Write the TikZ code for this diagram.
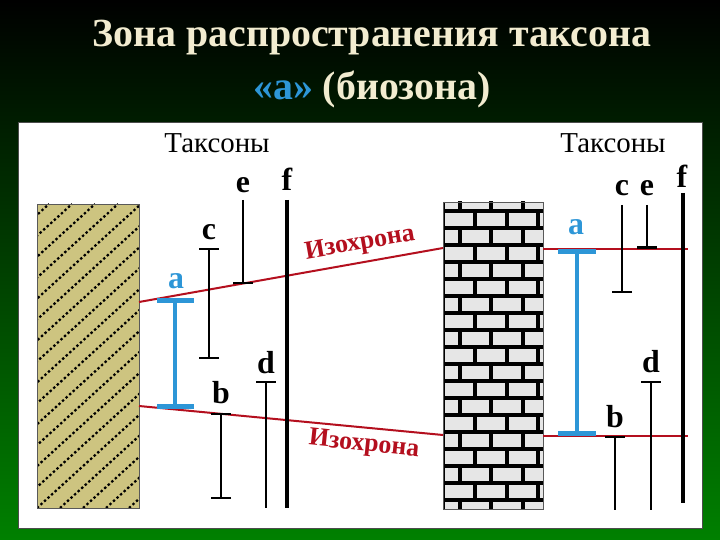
\documentclass[tikz,border=0pt]{standalone}
\usepackage{fontspec}
\setmainfont{Liberation Serif}
\usetikzlibrary{arrows.meta, positioning}
\definecolor{titlecream}{RGB}{242,236,208}
\definecolor{zoneblue}{RGB}{45,150,215}
\definecolor{isored}{RGB}{180,15,30}
\definecolor{sandfill}{RGB}{205,196,128}
\definecolor{brickfill}{RGB}{230,230,230}
\definecolor{bggreen}{RGB}{0,128,0}

\begin{document}
\begin{tikzpicture}[x=1bp, y=-1bp,
    titletext/.style={text=titlecream, font=\fontsize{40}{48}\selectfont\bfseries, inner sep=0},
    taxhead/.style={font=\fontsize{29}{34}\selectfont, anchor=base, inner sep=0},
    taxlabel/.style={font=\fontsize{32}{36}\selectfont\bfseries, anchor=base, inner sep=0},
    isolabel/.style={text=isored, font=\fontsize{26}{30}\selectfont\bfseries, inner sep=0},
    isochrone/.style={isored, line width=2bp},
    taxon/.style={black, line width=2bp},
    thicktaxon/.style={black, line width=3.2bp},
    zonebar/.style={zoneblue, line width=4bp},
    hatchline/.style={black, line width=2.2bp, dash pattern=on 2.4bp off 2.4bp},
    mortar/.style={black, line width=4bp}]
    \useasboundingbox (0,0) rectangle (720,540);
    % background and panel
    \shade[top color=black, bottom color=bggreen] (0,0) rectangle (720,540);
    \fill[white, draw=gray!60!black] (18,122) rectangle (702,528);

    % title
    \node[titletext] (title1) at (372,38) {Зона распространения таксона};
    \node[titletext] (title2) at (372,89) {\textcolor{zoneblue}{«a»} (биозона)};

    % sandstone column
    \fill[sandfill] (37,204) rectangle (139,508);
    \begin{scope}
        \clip (37,204) rectangle (139,508);
        \foreach \k in {-15,...,5}
            \draw[hatchline] (37+23*\k,508) -- ++(334,-304);
    \end{scope}
    \draw[gray!70!black] (37,204) rectangle (139,508);

    % brick column
    \fill[brickfill] (443,202) rectangle (543,509);
    \begin{scope}
        \clip (443,202) rectangle (543,509);
        \foreach \k in {0,...,17}
            \draw[mortar] (443,500-17*\k) -- (543,500-17*\k);
        \foreach \k in {-1,1,...,17}
            \foreach \jx in {459.5,491,522.5}
                \draw[mortar] (\jx,500-17*\k) -- (\jx,483-17*\k);
        \foreach \k in {0,2,...,16}
            \foreach \jx in {475,506.5,538}
                \draw[mortar] (\jx,500-17*\k) -- (\jx,483-17*\k);
        \draw[black, line width=3bp] (443,202) -- (443,509);
    \end{scope}
    \draw[gray!70!black] (443,202) rectangle (543,509);

    % isochrones
    \coordinate (upL) at (139,302);
    \coordinate (upM) at (443,248);
    \coordinate (upN) at (543,249);
    \coordinate (upR) at (688,249);
    \coordinate (loL) at (139,406);
    \coordinate (loM) at (443,435);
    \coordinate (loN) at (543,436);
    \coordinate (loR) at (688,436);
    \draw[isochrone] (upL) -- (upM);
    \draw[isochrone] (upN) -- (upR);
    \draw[isochrone] (loL) -- (loM);
    \draw[isochrone] (loN) -- (loR);
    \node[isolabel, rotate=10] (iso1) at (360,244) {Изохрона};
    \node[isolabel, rotate=-6] (iso2) at (364,445) {Изохрона};

    % left section taxa
    \node[taxhead] (headL) at (217,153) {Таксоны};
    \coordinate (aLt) at (175,298);  \coordinate (aLb) at (175,409);
    \coordinate (cLt) at (209,248);  \coordinate (cLb) at (209,359);
    \coordinate (eLt) at (243,200);  \coordinate (eLb) at (243,284);
    \coordinate (fLt) at (287,200);  \coordinate (fLb) at (287,508);
    \coordinate (bLt) at (221,413);  \coordinate (bLb) at (221,499);
    \coordinate (dLt) at (266,381);  \coordinate (dLb) at (266,508);
    \draw[zonebar, {Bar[width=37bp, line width=5bp]}-{Bar[width=37bp, line width=5bp]}] (aLt) -- (aLb);
    \draw[taxon, {Bar[width=20bp]}-{Bar[width=20bp]}] (cLt) -- (cLb);
    \draw[taxon, -{Bar[width=20bp]}] (eLt) -- (eLb);
    \draw[thicktaxon] (fLt) -- (fLb);
    \draw[taxon, {Bar[width=20bp]}-{Bar[width=20bp]}] (bLt) -- (bLb);
    \draw[taxon, {Bar[width=20bp]}-] (dLt) -- (dLb);
    \node[taxlabel, text=zoneblue] (aL) at (176,288) {a};
    \node[taxlabel] (cL) at (209,240) {c};
    \node[taxlabel] (eL) at (243,193) {e};
    \node[taxlabel] (fL) at (287,191) {f};
    \node[taxlabel] (bL) at (221,403) {b};
    \node[taxlabel] (dL) at (266,373) {d};

    % right section taxa
    \node[taxhead] (headR) at (613,153) {Таксоны};
    \coordinate (aRt) at (577,249);  \coordinate (aRb) at (577,436);
    \coordinate (cRt) at (622,205);  \coordinate (cRb) at (622,293);
    \coordinate (eRt) at (647,205);  \coordinate (eRb) at (647,249);
    \coordinate (fRt) at (683,193);  \coordinate (fRb) at (683,503);
    \coordinate (bRt) at (615,436);  \coordinate (bRb) at (615,510);
    \coordinate (dRt) at (651,381);  \coordinate (dRb) at (651,510);
    \draw[zonebar, {Bar[width=38bp, line width=5bp]}-{Bar[width=38bp, line width=5bp]}] (aRt) -- (aRb);
    \draw[taxon, -{Bar[width=20bp]}] (cRt) -- (cRb);
    \draw[taxon, -{Bar[width=20bp, line width=3bp]}] (eRt) -- (eRb);
    \draw[thicktaxon] (fRt) -- (fRb);
    \draw[taxon, {Bar[width=20bp]}-] (bRt) -- (bRb);
    \draw[taxon, {Bar[width=20bp]}-] (dRt) -- (dRb);
    \node[taxlabel, text=zoneblue] (aR) at (576,235) {a};
    \node[taxlabel] (cR) at (622,196) {c};
    \node[taxlabel] (eR) at (647,196) {e};
    \node[taxlabel] (fR) at (682,188) {f};
    \node[taxlabel] (bR) at (615,427) {b};
    \node[taxlabel] (dR) at (651,372) {d};
\end{tikzpicture}
\end{document}
